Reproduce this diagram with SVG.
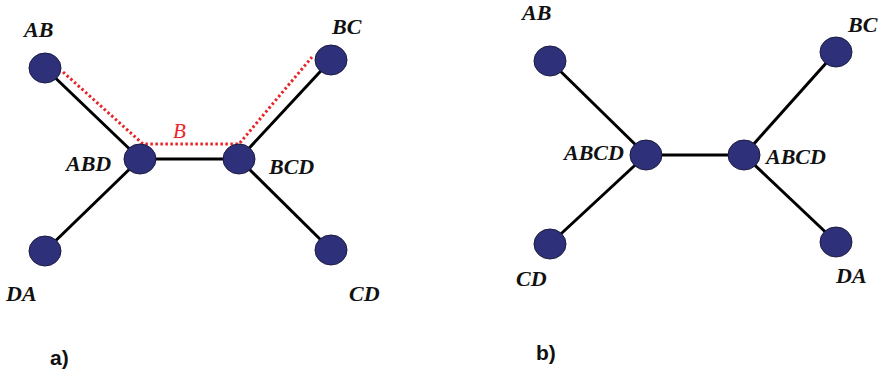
<svg xmlns="http://www.w3.org/2000/svg" width="886" height="374" viewBox="0 0 886 374">
<style>
.edge{stroke:#000;stroke-width:3;fill:none}
.red{stroke:#e8262a;stroke-width:3;fill:none;stroke-dasharray:2.5 2.5}
.node{fill:#2e3179;stroke:#1a1a40;stroke-width:1}
.lbl{font-family:'Liberation Serif','DejaVu Serif','Times New Roman',serif;font-weight:bold;font-style:italic;font-size:22px;fill:#111}
.cap{font-family:'Liberation Sans',Arial,sans-serif;font-weight:bold;font-size:21px;fill:#111}
.b{font-family:'Liberation Serif','DejaVu Serif',serif;font-style:italic;font-size:21px;fill:#e8262a}
</style>
<rect width="886" height="374" fill="#fff"/>
<g id="connectors">
<line class="edge" x1="45" y1="68" x2="140" y2="159"/>
<line class="edge" x1="45" y1="251" x2="140" y2="159"/>
<line class="edge" x1="140" y1="159" x2="239" y2="159"/>
<line class="edge" x1="239" y1="159" x2="331" y2="60"/>
<line class="edge" x1="239" y1="159" x2="331" y2="250"/>
<polyline class="red" points="63,72 143,144 239,144 312,57"/>
<line class="edge" x1="550" y1="61" x2="646" y2="155"/>
<line class="edge" x1="550" y1="244" x2="646" y2="155"/>
<line class="edge" x1="646" y1="155" x2="744" y2="155"/>
<line class="edge" x1="744" y1="155" x2="836" y2="52"/>
<line class="edge" x1="744" y1="155" x2="836" y2="242"/>
</g>
<text class="b" x="173" y="138">B</text>
<g id="a-AB"><ellipse class="node" cx="45" cy="68" rx="16" ry="15"/><text class="lbl" x="24" y="37">AB</text></g>
<g id="a-BC"><ellipse class="node" cx="331" cy="60" rx="16" ry="15"/><text class="lbl" x="332" y="34">BC</text></g>
<g id="a-ABD"><ellipse class="node" cx="140" cy="159" rx="16" ry="15"/><text class="lbl" x="66" y="171">ABD</text></g>
<g id="a-BCD"><ellipse class="node" cx="239" cy="159" rx="16" ry="15"/><text class="lbl" x="269" y="174">BCD</text></g>
<g id="a-DA"><ellipse class="node" cx="45" cy="251" rx="16" ry="15"/><text class="lbl" x="6" y="301">DA</text></g>
<g id="a-CD"><ellipse class="node" cx="331" cy="250" rx="16" ry="15"/><text class="lbl" x="349" y="301">CD</text></g>
<g id="b-AB"><ellipse class="node" cx="550" cy="61" rx="16" ry="15"/><text class="lbl" x="522" y="20">AB</text></g>
<g id="b-BC"><ellipse class="node" cx="836" cy="52" rx="16" ry="15"/><text class="lbl" x="848" y="32">BC</text></g>
<g id="b-ABCD1"><ellipse class="node" cx="646" cy="155" rx="16" ry="15"/><text class="lbl" x="564" y="160">ABCD</text></g>
<g id="b-ABCD2"><ellipse class="node" cx="744" cy="155" rx="16" ry="15"/><text class="lbl" x="766" y="164">ABCD</text></g>
<g id="b-CD"><ellipse class="node" cx="550" cy="244" rx="16" ry="15"/><text class="lbl" x="516" y="286">CD</text></g>
<g id="b-DA"><ellipse class="node" cx="836" cy="242" rx="16" ry="15"/><text class="lbl" x="836" y="283">DA</text></g>
<text class="cap" x="50" y="365">a)</text>
<text class="cap" x="536" y="360">b)</text>
</svg>
